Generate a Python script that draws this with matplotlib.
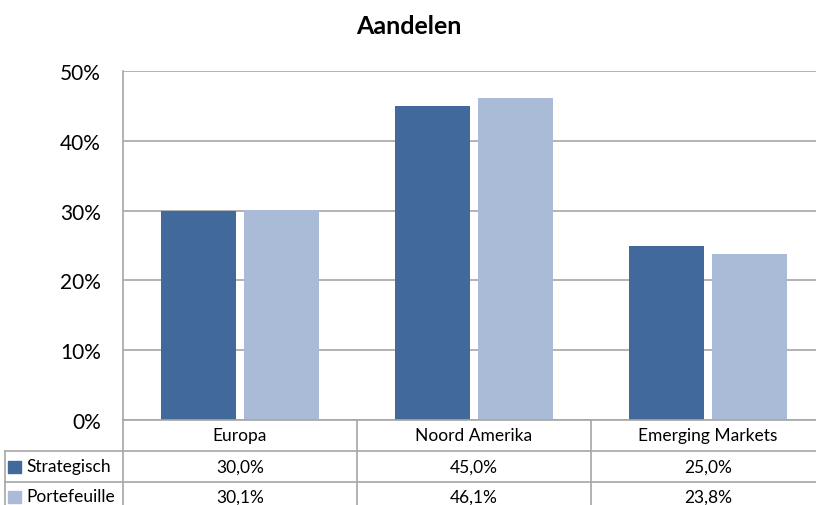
import numpy as np
import matplotlib
matplotlib.use("Agg")
import matplotlib.pyplot as plt
from matplotlib.ticker import FuncFormatter

categories = ["Europa", "Noord Amerika", "Emerging Markets"]
strategisch = [30.0, 45.0, 25.0]
portefeuille = [30.1, 46.1, 23.8]
series_names = ["Strategisch", "Portefeuille"]

dark = "#41699C"
light = "#AABBD8"
grid_col = "#A6A6A6"

plt.rcParams["font.family"] = ["Lato", "DejaVu Sans"]

W, H = 816, 506
fig = plt.figure(figsize=(W / 100, H / 100), dpi=100)

# plot area in pixels (extends past the right edge, as in the original)
left, right, top, bottom = 123, 825, 72, 421
ax = fig.add_axes([left / W, 1 - bottom / H, (right - left) / W, (bottom - top) / H])

x = np.arange(len(categories))
w = 0.32
ax.bar(x - 0.177, strategisch, width=w, color=dark, zorder=3)
ax.bar(x + 0.177, portefeuille, width=w, color=light, zorder=3)

ax.set_xlim(-0.5, len(categories) - 0.5)
ax.set_ylim(0, 50)
ax.set_yticks(np.arange(0, 51, 10))
ax.yaxis.set_major_formatter(FuncFormatter(lambda v, p: f"{v:.0f}%"))
ax.tick_params(axis="y", length=0, labelsize=15, pad=16)
ax.set_xticks([])
ax.grid(axis="y", color=grid_col, linewidth=1.2, zorder=0)
for s in ["top", "right", "bottom"]:
    ax.spines[s].set_visible(False)
ax.spines["left"].set_color(grid_col)
ax.spines["left"].set_linewidth(1.2)

fig.text(409 / W, 1 - 27 / H, "Aandelen", ha="center", va="center",
         fontsize=18, fontweight="bold")

# data table below the plot, drawn in pixel coordinates
ov = fig.add_axes([0, 0, 1, 1], zorder=5)
ov.set_xlim(0, W)
ov.set_ylim(H, 0)
ov.axis("off")

cell_w = (right - left) / len(categories)
row_y = [421, 452, 483, 514]
lc = dict(color=grid_col, linewidth=1.2)
ov.plot([left, right], [row_y[0], row_y[0]], **lc)
for yy in row_y[1:3]:
    ov.plot([5, right], [yy, yy], **lc)
for i in range(len(categories) + 1):
    xx = left + i * cell_w
    ov.plot([xx, xx], [row_y[0], H], **lc)
ov.plot([5, 5], [row_y[1], H], **lc)

fs = 12.5
for i, cat in enumerate(categories):
    cx = left + (i + 0.5) * cell_w
    ov.text(cx, (row_y[0] + row_y[1]) / 2, cat, ha="center", va="center", fontsize=fs)
    ov.text(cx, (row_y[1] + row_y[2]) / 2, f"{strategisch[i]:.1f}%".replace(".", ","),
            ha="center", va="center", fontsize=fs)
    ov.text(cx, (row_y[2] + row_y[3]) / 2 - 1, f"{portefeuille[i]:.1f}%".replace(".", ","),
            ha="center", va="center", fontsize=fs)

for r, (name, col) in enumerate(zip(series_names, [dark, light])):
    cy = (row_y[r + 1] + row_y[r + 2]) / 2 - (1 if r else 0)
    ov.add_patch(plt.Rectangle((8, cy - 6), 13, 12, color=col))
    ov.text(26, cy, name, ha="left", va="center", fontsize=fs)

fig.savefig("out.png", dpi=100)
